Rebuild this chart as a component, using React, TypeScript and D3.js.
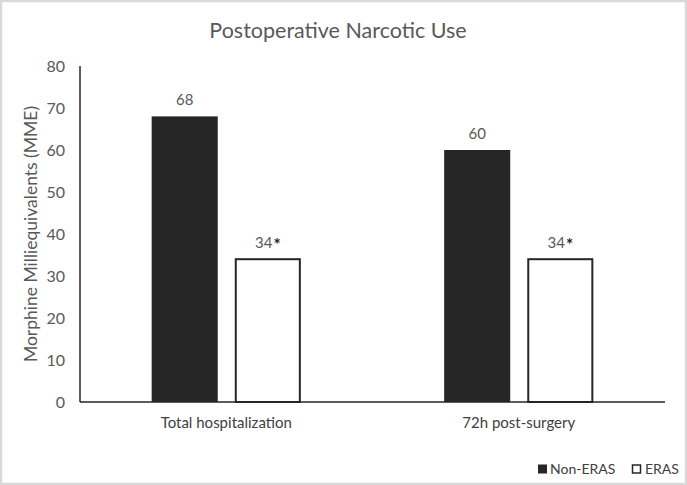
import React from "react";
import * as d3 from "d3";

const categories = ["Total hospitalization", "72h post-surgery"];
const seriesNames = ["Non-ERAS", "ERAS"];
const nonEras = [68, 60];
const eras = [34, 34];
const valueLabels = [["68", "60"], ["34", "34"]];
const significant = [[false, false], [true, true]];
const yTicks = [0, 10, 20, 30, 40, 50, 60, 70, 80];

const W = 687;
const H = 485;
const FONT = "Lato, 'Open Sans', sans-serif";
const DARK = "#262626";
const GRAY = "#595959";

export default function App() {
  const left = 80, right = 665, top = 66, bottom = 402;
  const y = d3.scaleLinear().domain([0, 80]).range([bottom, top]);
  const x0 = d3.scaleBand<string>().domain(categories).range([left, right]).paddingInner(0.49).paddingOuter(0.245);
  const x1 = d3.scaleBand<string>().domain(seriesNames).range([0, x0.bandwidth()]).paddingInner(0.205).paddingOuter(0);
  const series = [nonEras, eras];

  return (
    <svg width={W} height={H} style={{ position: "absolute", left: 0, top: 0, display: "block" }} fontFamily={FONT}>
      <rect x={0} y={0} width={W} height={H} fill="#fff" />
      <rect x={1} y={1} width={W - 2} height={H - 2} fill="none" stroke="#d9d9d9" strokeWidth={2.5} />
      <text x={338} y={38} textAnchor="middle" fontSize={21.5} fill={GRAY}>Postoperative Narcotic Use</text>

      {yTicks.map((t) => (
        <text key={t} x={65} y={y(t)} dy="0.35em" textAnchor="end" fontSize={16} fill={GRAY}>{t}</text>
      ))}
      <text transform={`translate(37,${(top + bottom) / 2}) rotate(-90)`} textAnchor="middle" fontSize={17.5} fill={GRAY}>
        Morphine Milliequivalents (MME)
      </text>

      {categories.map((c, ci) => (
        <g key={c}>
          {series.map((vals, si) => {
            const bx = (x0(c) ?? 0) + (x1(seriesNames[si]) ?? 0);
            const bw = x1.bandwidth();
            const v = vals[ci];
            const isEras = si === 1;
            return (
              <g key={si}>
                {isEras ? (
                  <rect x={bx + 1} y={y(v)} width={bw - 2} height={y(0) - y(v)} fill="#fff" stroke={DARK} strokeWidth={2} />
                ) : (
                  <rect x={bx} y={y(v)} width={bw} height={y(0) - y(v)} fill={DARK} />
                )}
                <text x={bx + bw / 2} y={y(v) - 11} textAnchor="middle" fontSize={15} fill={GRAY}>
                  {valueLabels[si][ci]}
                  {significant[si][ci] ? <tspan fill={DARK} fontWeight="bold" fontSize={17} dx={1} dy={3}>*</tspan> : null}
                </text>
              </g>
            );
          })}
          <text x={(x0(c) ?? 0) + x0.bandwidth() / 2} y={428} textAnchor="middle" fontSize={15} fill="#404040">{c}</text>
        </g>
      ))}

      <line x1={left} x2={left} y1={top} y2={bottom} stroke={DARK} strokeWidth={1.5} />
      <line x1={left} x2={right} y1={bottom} y2={bottom} stroke={DARK} strokeWidth={1.5} />

      <g fontSize={14} fill="#404040">
        <rect x={538} y={464.5} width={9} height={9} fill={DARK} />
        <text x={550} y={469} dy="0.35em">{seriesNames[0]}</text>
        <rect x={632.5} y={465} width={8} height={8} fill="#fff" stroke={DARK} strokeWidth={1.5} />
        <text x={645} y={469} dy="0.35em">{seriesNames[1]}</text>
      </g>
    </svg>
  );
}
